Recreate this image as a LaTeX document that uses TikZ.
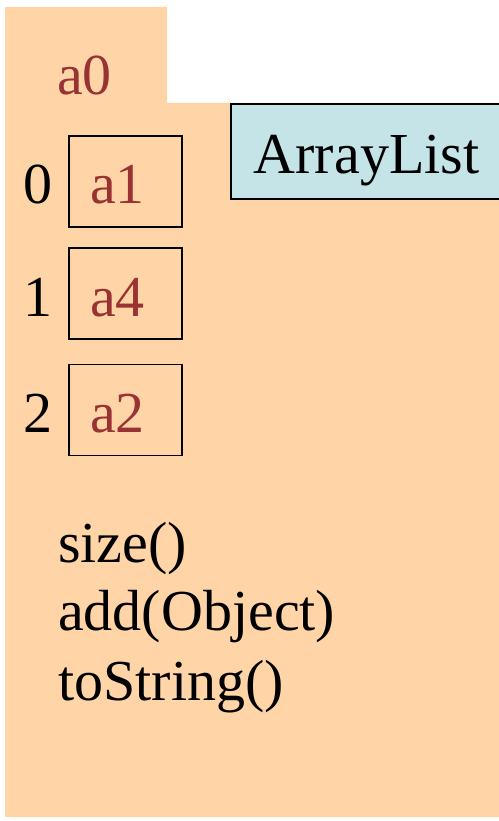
\documentclass[tikz,border=0pt]{standalone}
\usepackage{fontspec}
\setmainfont{Liberation Serif}
\usepackage{tikz}
\usetikzlibrary{positioning}

\definecolor{objfill}{RGB}{255,213,168}
\definecolor{clsfill}{RGB}{196,228,231}
\definecolor{refred}{RGB}{153,51,51}

\begin{document}
\begin{tikzpicture}[x=1pt,y=-1pt,
	big/.style={font=\fontsize{58}{69}\selectfont},
	slot/.style={big,draw,line width=1.5pt,text=refred,minimum width=113pt,minimum height=91pt,
		text width=71pt,align=left,inner xsep=21pt,inner ysep=0pt,text height=45pt,text depth=0pt},
	idx/.style={big,inner sep=0pt,text height=45pt,text depth=0pt},
	clsbox/.style={big,draw,fill=clsfill,line width=1.5pt,minimum height=95pt,
		text width=240pt,align=left,inner xsep=23pt,inner ysep=0pt,text height=45pt,text depth=0pt},
	method/.style={big,inner sep=0pt}]
		\useasboundingbox (0,0) rectangle (498,821);
		% object folder
		\fill[objfill] (5,7) -- (167,7) -- (167,103) -- (510,103) -- (510,817) -- (5,817) -- cycle;
		\node[big,text=refred,inner sep=0pt,anchor=base west] (name) at (57,95) {a0};
		\node[clsbox,anchor=west] (cls) at (230,151.5) {ArrayList};
		%
		\node[slot] (S0) at (125.5,181.5) {a1};
		\node[slot] (S1) at (125.5,293.5) {a4};
		\node[slot] (S2) at (125.5,410) {a2};
		\node[idx,left=16pt of S0] (I0) {0};
		\node[idx,left=16pt of S1] (I1) {1};
		\node[idx,left=16pt of S2] (I2) {2};
		% methods
		\node[method,anchor=base west] (M0) at (58,562) {size()};
		\node[method,anchor=base west] (M1) at (58,630) {add(Object)};
		\node[method,anchor=base west] (M2) at (58,700) {toString()};
		\end{tikzpicture}
\end{document}
